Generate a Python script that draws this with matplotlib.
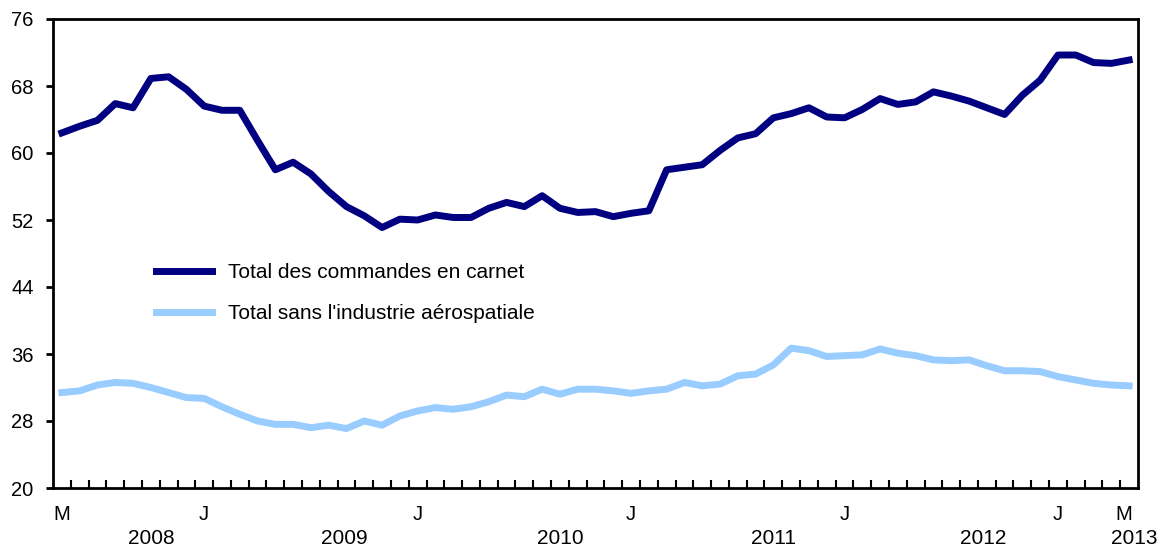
import matplotlib
matplotlib.use("Agg")
import matplotlib.pyplot as plt
import numpy as np

plt.rcParams["font.family"] = ["Liberation Sans", "DejaVu Sans"]

# monthly, March 2008 .. March 2013 (index 0..60)
total = [62.4, 63.2, 63.9, 65.9, 65.4, 68.9, 69.1, 67.6, 65.6, 65.1,
         65.1, 61.5, 58.0, 58.9, 57.5, 55.4, 53.6, 52.5, 51.1, 52.1,
         52.0, 52.6, 52.3, 52.3, 53.4, 54.1, 53.6, 54.9, 53.4, 52.9,
         53.0, 52.4, 52.8, 53.1, 58.0, 58.3, 58.6, 60.3, 61.8, 62.3,
         64.2, 64.7, 65.4, 64.3, 64.2, 65.2, 66.5, 65.8, 66.1, 67.3,
         66.8, 66.2, 65.4, 64.6, 66.9, 68.7, 71.7, 71.7, 70.8, 70.7,
         71.1]
sans_aero = [31.4, 31.6, 32.3, 32.6, 32.5, 32.0, 31.4, 30.8, 30.7, 29.7,
             28.8, 28.0, 27.6, 27.6, 27.2, 27.5, 27.1, 28.0, 27.5, 28.6,
             29.2, 29.6, 29.4, 29.7, 30.3, 31.1, 30.9, 31.8, 31.2, 31.8,
             31.8, 31.6, 31.3, 31.6, 31.8, 32.6, 32.2, 32.4, 33.4, 33.6,
             34.7, 36.7, 36.4, 35.7, 35.8, 35.9, 36.6, 36.1, 35.8, 35.3,
             35.2, 35.3, 34.6, 34.0, 34.0, 33.9, 33.3, 32.9, 32.5, 32.3,
             32.2]
labels = ["Total des commandes en carnet", "Total sans l'industrie aérospatiale"]
tick_pos = [0, 8, 20, 32, 44, 56, 59.7]
tick_labels = ["M", "J", "J", "J", "J", "J", "M"]
year_pos = [5.0, 15.9, 28.0, 40.0, 51.8, 60.3]
year_labels = ["2008", "2009", "2010", "2011", "2012", "2013"]

months = np.arange(len(total))

fig = plt.figure(figsize=(11.69, 5.5), dpi=100)
ax = fig.add_axes([53 / 1169, 1 - 488 / 550, (1138 - 53) / 1169, (488 - 19) / 550])

ax.plot(months, total, color="#000080", lw=5, label=labels[0], solid_joinstyle="round")
ax.plot(months, sans_aero, color="#99ccff", lw=5, label=labels[1], solid_joinstyle="round")

ax.set_xlim(-0.5, 60.5)
ax.set_ylim(20, 76)
ax.set_yticks(np.arange(20, 77, 8))
ax.tick_params(axis="y", direction="out", length=5, width=2, pad=9, labelsize=14.5)

ax.set_xticks(tick_pos)
ax.set_xticklabels(tick_labels)
ax.set_xticks(np.arange(0.5, 60, 1), minor=True)
ax.tick_params(axis="x", which="major", length=0, pad=12, labelsize=14.5)
ax.tick_params(axis="x", which="minor", direction="in", length=6, width=1.5)

for s in ax.spines.values():
    s.set_linewidth(2)

for p, t in zip(year_pos, year_labels):
    ax.text(p, -(538 - 488) / 469, t, transform=ax.get_xaxis_transform(),
            ha="center", va="center", fontsize=15)

ax.legend(loc="upper left", bbox_to_anchor=(156 / 1169, 1 - 263 / 550),
          bbox_transform=fig.transFigure, frameon=False, fontsize=15,
          handlelength=2.7, handletextpad=0.75, labelspacing=1.05,
          borderpad=0, borderaxespad=0)

fig.savefig("out.png", dpi=100)
